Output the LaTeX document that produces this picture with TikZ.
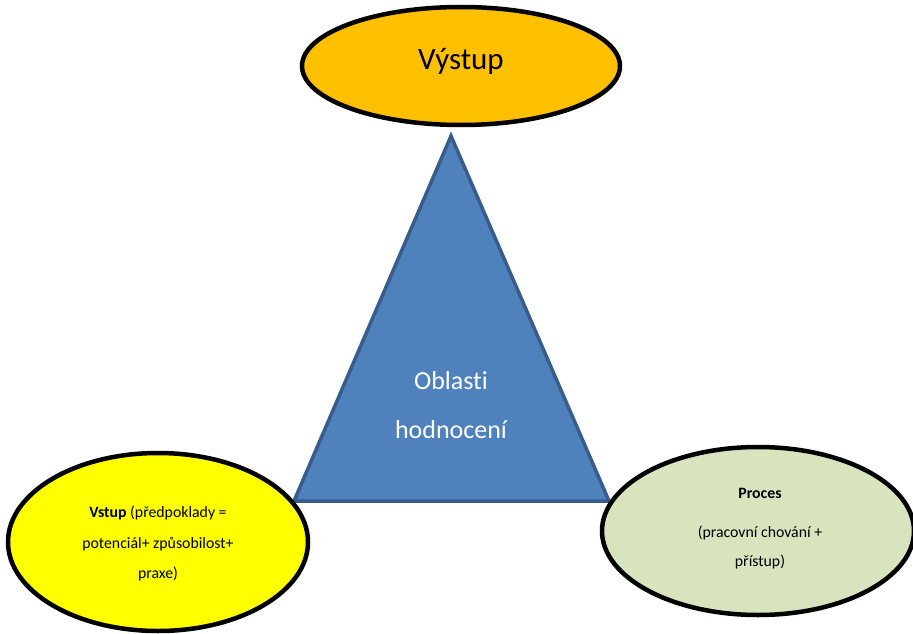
\documentclass[tikz,border=0pt]{standalone}
\usepackage{fontspec}
\setmainfont[Ligatures=NoCommon]{Carlito}
\usetikzlibrary{shapes.geometric}
\definecolor{triFill}{HTML}{4F81BD}
\definecolor{triLine}{HTML}{385D8A}
\definecolor{topFill}{HTML}{FFC000}
\definecolor{leftFill}{HTML}{FFFF00}
\definecolor{rightFill}{HTML}{D7E4BD}
\tikzset{
  oval/.style={ellipse, draw=black, line width=4.5pt, inner sep=0pt},
  lbl/.style={inner sep=0pt, anchor=base, text=black},
  small/.style={font=\fontsize{15.8}{18}\selectfont},
}
\begin{document}
\begin{tikzpicture}[x=1pt,y=-1pt]
\useasboundingbox (0,0) rectangle (913,634);
% triangle
\coordinate (apex) at (451,136);
\coordinate (bl) at (294,501);
\coordinate (br) at (609,501);
\filldraw[fill=triFill, draw=triLine, line width=3.5pt, line join=miter] (apex) -- (br) -- (bl) -- cycle;
\node[lbl, text=white, font=\fontsize{26}{30}\selectfont] (t1) at (451,389) {Oblasti};
\node[lbl, text=white, font=\fontsize{26}{30}\selectfont] (t2) at (451,438) {hodnocení};
% top ellipse
\node[oval, fill=topFill, minimum width=318pt, minimum height=118pt] (top) at (461,66) {};
\node[lbl, font=\fontsize{31}{36}\selectfont] (toptxt) at (461,70) {Výstup};
% left ellipse
\node[oval, fill=leftFill, minimum width=300pt, minimum height=178pt] (left) at (158,542) {};
\node[lbl, small] (l1) at (158,517) {\textbf{Vstup} (předpoklady =};
\node[lbl, small] (l2) at (158,548) {potenciál+ způsobilost+};
\node[lbl, small] (l3) at (158,578) {praxe)};
% right ellipse
\node[oval, fill=rightFill, minimum width=312pt, minimum height=168pt] (right) at (758,531) {};
\node[lbl, small] (r1) at (760,498) {\textbf{Proces}};
\node[lbl, small] (r2) at (760,537) {(pracovní chování +};
\node[lbl, small] (r3) at (760,566) {přístup)};
\end{tikzpicture}
\end{document}
